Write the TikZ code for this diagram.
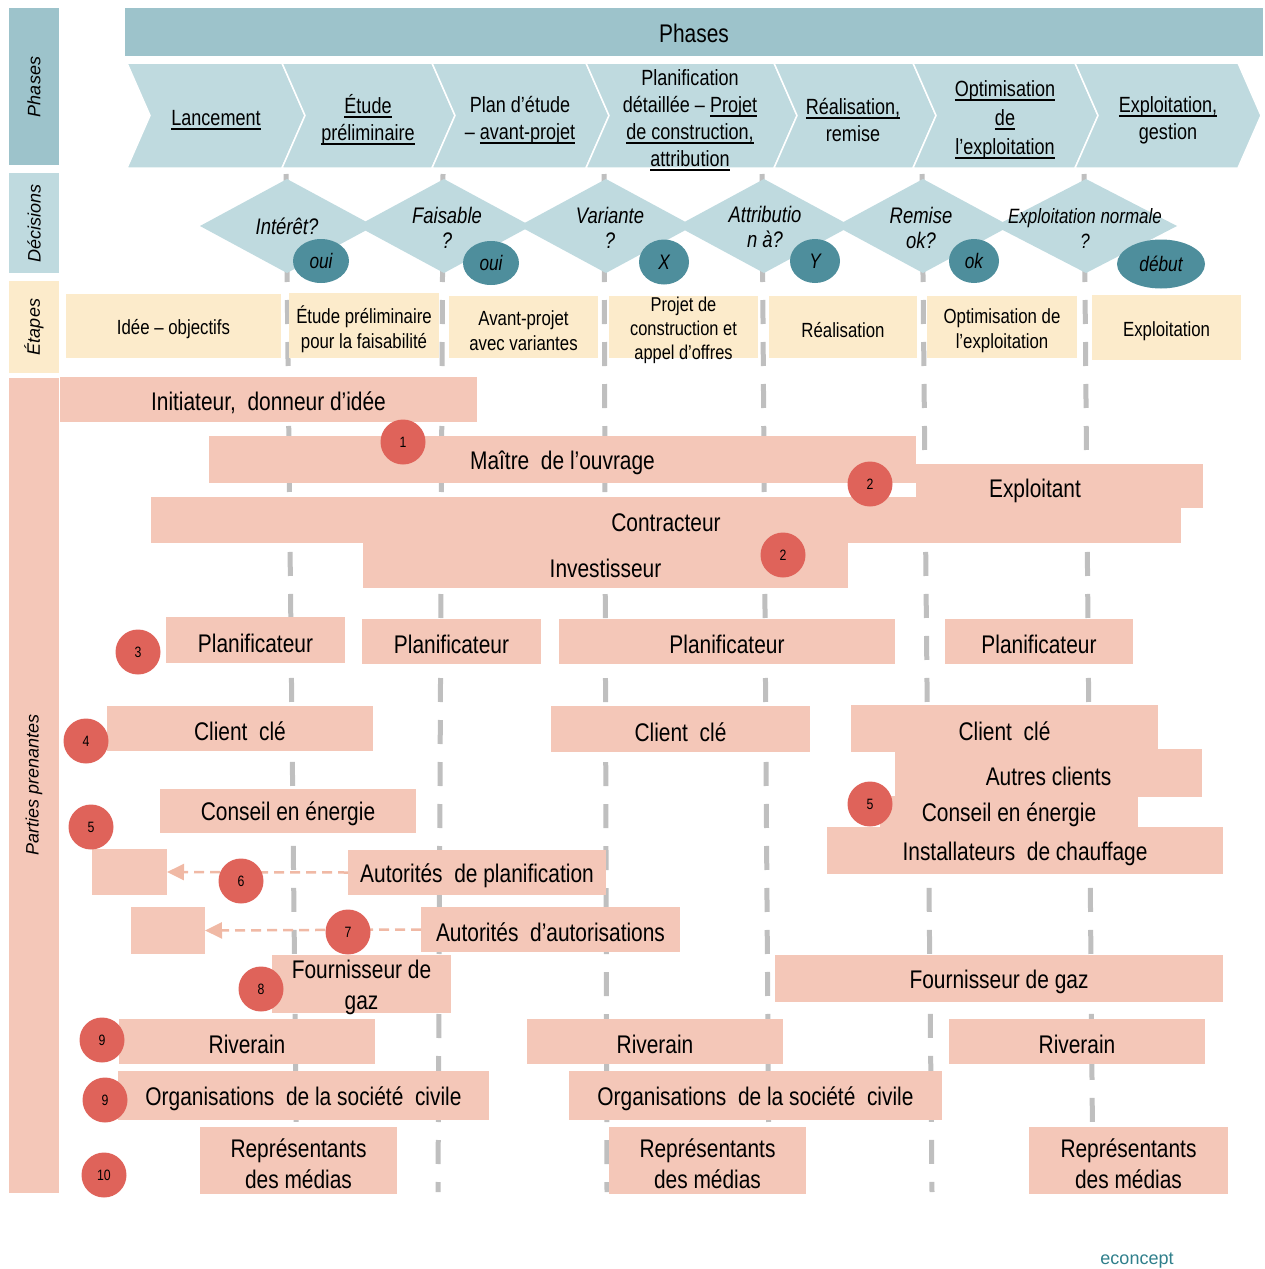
\documentclass[tikz,border=0pt]{standalone}
\usepackage{fontspec}
\setmainfont{Liberation Sans}[FakeStretch=0.82]
\newfontfamily\lblfont{Liberation Sans}
\usetikzlibrary{arrows.meta,shapes.geometric}
\definecolor{phdark}{HTML}{9DC3CB}
\definecolor{phlight}{HTML}{BFDADF}
\definecolor{ellteal}{HTML}{4E8E9C}
\definecolor{etyellow}{HTML}{FCEBCB}
\definecolor{salmonc}{HTML}{F4C7B8}
\definecolor{redc}{HTML}{DF635A}
\definecolor{glinec}{HTML}{BFBFBF}
\definecolor{arrowc}{HTML}{F0B9A5}
\definecolor{ectxt}{HTML}{2F7F8B}
\newcommand\myul[1]{\setbox0\hbox{#1}\rlap{\rule[-4.5pt]{\wd0}{1.8pt}}\box0}
% name, x1, y1, x2, y2, style, text   (fill node + text node named <name>t)
\newcommand\rbox[7]{\node[#6, minimum width={(#4-#2)*1pt}, minimum height={(#5-#3)*1pt}] (#1) at ({(#2+#4)/2},{(#3+#5)/2}) {};
  \node[#6t] (#1t) at (#1.center) {#7};}
\newcommand\chev[2]{\path[fill=phlight, draw=white, line width=1.5pt] (#1,63) -- (#2,63) -- ({#2+23},115.5) -- (#2,168) -- (#1,168) -- ({#1+23},115.5) -- cycle;}
\newcommand\dmd[2]{\path[fill=phlight] ({#1-#2},226) -- (#1,179) -- ({#1+#2},226) -- (#1,273) -- cycle;}
\tikzset{
  every node/.style={inner sep=0pt, outer sep=0pt},
  sbox/.style={fill=salmonc},
  sboxt/.style={align=center, font=\fontsize{25.5}{31}\selectfont, yshift=-3pt},
  ebox/.style={fill=etyellow},
  eboxt/.style={align=center, font=\fontsize{20.5}{25}\selectfont, yshift=-3.5pt},
  eboxs/.style={fill=etyellow},
  eboxst/.style={align=center, font=\fontsize{20}{24}\selectfont, yshift=-3.5pt},
  barbox/.style={fill=phdark},
  barboxt/.style={font=\fontsize{25.5}{28}\selectfont, yshift=-1pt},
  phtxt/.style={align=center, font=\fontsize{22}{27}\selectfont, yshift=-2pt},
  dtxt/.style={align=center, font=\itshape\fontsize{22.5}{25}\selectfont},
  ell/.style={ellipse, fill=ellteal, font=\itshape\fontsize{21}{25}\selectfont},
  numc/.style={circle, fill=redc, minimum size=45pt, font=\fontsize{15}{15}\selectfont},
  vlbl/.style={rotate=90, font=\lblfont\itshape\fontsize{18}{20}\selectfont},
  gl/.style={draw=glinec, line width=5pt, dash pattern=on 24pt off 18pt},
  darr/.style={draw=arrowc, line width=2.5pt, dash pattern=on 10pt off 6pt, -{Triangle[length=17pt,width=16pt]}}
}
\begin{document}
\begin{tikzpicture}[x=1pt,y=-1pt]
\useasboundingbox (0,0) rectangle (1265,1269);
% left label column
\fill[phdark] (9,8) rectangle (59,165);
\node[vlbl] (lphases) at (34,87) {Phases};
\fill[phlight] (9,173) rectangle (59,273);
\node[vlbl] (ldec) at (34,223) {Décisions};
\fill[etyellow] (9,281) rectangle (59,373);
\node[vlbl] (letapes) at (34,327) {Étapes};
\fill[salmonc] (9,378) rectangle (59,1193);
\node[vlbl] (lparties) at (34,785) {Parties prenantes};
% top bar
\rbox{phbar}{125}{8}{1263}{56}{barbox}{Phases}
% chevrons
\chev{127}{282}
\chev{282}{432}
\chev{432}{586}
\chev{586}{774}
\chev{774}{913}
\chev{913}{1075}
\chev{1075}{1238}
\node[phtxt] (p1) at (216,118) {\myul{Lancement}};
\node[phtxt] (p2) at (368,118) {\myul{Étude}\\\myul{préliminaire}};
\node[phtxt] (p3) at (520,118) {Plan d’étude\\– \myul{avant-projet}};
\node[phtxt] (p4) at (690,118) {Planification\\détaillée – \myul{Projet}\\\myul{de construction,}\\\myul{attribution}};
\node[phtxt] (p5) at (853,118) {\myul{Réalisation,}\\remise};
\node[phtxt, font=\fontsize{22}{29}\selectfont] (p6) at (1005,118) {\myul{Optimisation}\\\myul{de}\\\myul{l’exploitation}};
\node[phtxt] (p7) at (1168,118) {\myul{Exploitation,}\\gestion};
% vertical dashed lines
\coordinate (l1t) at (286,174); \coordinate (l1b) at (297,1192);
\coordinate (l2t) at (443,174); \coordinate (l2b) at (438,1192);
\coordinate (l3t) at (604,174); \coordinate (l3b) at (607,1192);
\coordinate (l4t) at (762,174); \coordinate (l4b) at (769,1192);
\coordinate (l5t) at (922,174); \coordinate (l5b) at (932,1192);
\coordinate (l6t) at (1084,174); \coordinate (l6b) at (1093,1192);
\foreach \i in {1,...,6} { \draw[gl] (l\i t) -- (l\i b); }
% decisions
\dmd{287}{87}
\dmd{444}{87}
\dmd{606}{87}
\dmd{764}{87}
\dmd{923}{87}
\dmd{1086}{91}
\node[dtxt] (d1) at (287,226) {Intérêt?};
\node[dtxt] (d2) at (447,228) {Faisable\\?};
\node[dtxt] (d3) at (610,228) {Variante\\?};
\node[dtxt] (d4) at (765,227) {Attributio\\n à?};
\node[dtxt] (d5) at (921,228) {Remise\\ok?};
\node[dtxt, font=\itshape\fontsize{20.7}{25}\selectfont] (d6) at (1085,228) {Exploitation normale\\?};
\node[ell, minimum width=56pt, minimum height=44pt] (e1) at (321,261) {oui};
\node[ell, minimum width=56pt, minimum height=44pt] (e2) at (491,263) {oui};
\node[ell, minimum width=50pt, minimum height=45pt] (e3) at (664,262) {X};
\node[ell, minimum width=50pt, minimum height=44pt] (e4) at (815,261) {Y};
\node[ell, minimum width=50pt, minimum height=44pt] (e5) at (974,261) {ok};
\node[ell, minimum width=88pt, minimum height=49pt] (e6) at (1161,264) {début};
% etapes
\rbox{et1}{66}{294}{281}{358}{ebox}{Idée – objectifs}
\rbox{et2}{289}{293}{439}{358}{ebox}{Étude préliminaire\\pour la faisabilité}
\rbox{et3}{449}{296}{598}{358}{ebox}{Avant-projet\\avec variantes}
\rbox{et4}{609}{296}{758}{358}{eboxs}{Projet de\\construction et\\appel d’offres}
\rbox{et5}{769}{296}{917}{358}{ebox}{Réalisation}
\rbox{et6}{927}{296}{1077}{358}{ebox}{Optimisation de\\l’exploitation}
\rbox{et7}{1092}{295}{1241}{360}{ebox}{Exploitation}
% stakeholders
\rbox{init}{60}{377}{477}{422}{sbox}{Initiateur,~ donneur d’idée}
\rbox{maitre}{209}{436}{916}{483}{sbox}{Maître~ de l’ouvrage}
\node[sbox, minimum width=287pt, minimum height=44pt] (exploit) at (1059.5,486) {};
\rbox{contr}{151}{497}{1181}{543}{sbox}{Contracteur}
\node[sboxt] (exploitt) at (1035,488) {Exploitant};
\rbox{invest}{363}{543}{848}{588}{sbox}{Investisseur}
\rbox{plan1}{166}{617}{345}{663}{sbox}{Planificateur}
\rbox{plan2}{362}{619}{541}{664}{sbox}{Planificateur}
\rbox{plan3}{559}{619}{895}{664}{sbox}{Planificateur}
\rbox{plan4}{945}{619}{1133}{664}{sbox}{Planificateur}
\rbox{client1}{107}{706}{373}{751}{sbox}{Client~ clé}
\rbox{client2}{551}{706}{810}{752}{sbox}{Client~ clé}
\rbox{client3}{851}{705}{1158}{752}{sbox}{Client~ clé}
\rbox{autres}{895}{749}{1202}{797}{sbox}{Autres clients}
\rbox{conseil1}{160}{789}{416}{833}{sbox}{Conseil en énergie}
\rbox{conseil2}{880}{796}{1138}{828}{sbox}{Conseil en énergie}
\rbox{install}{827}{827}{1223}{874}{sbox}{Installateurs~ de chauffage}
\rbox{b6}{92}{849}{167}{895}{sbox}{}
\rbox{autplan}{348}{850}{606}{895}{sbox}{Autorités~ de planification}
\rbox{b7}{131}{907}{205}{954}{sbox}{}
\rbox{autaut}{421}{907}{680}{952}{sbox}{Autorités~ d’autorisations}
\rbox{four1}{272}{955}{451}{1013}{sbox}{Fournisseur de\\gaz}
\rbox{four2}{775}{955}{1223}{1002}{sbox}{Fournisseur de gaz}
\rbox{riv1}{119}{1019}{375}{1064}{sbox}{Riverain}
\rbox{riv2}{527}{1019}{783}{1064}{sbox}{Riverain}
\rbox{riv3}{949}{1019}{1205}{1064}{sbox}{Riverain}
\rbox{org1}{118}{1071}{489}{1120}{sbox}{Organisations~ de la société~ civile}
\rbox{org2}{569}{1071}{942}{1120}{sbox}{Organisations~ de la société~ civile}
\rbox{rep1}{200}{1127}{397}{1194}{sbox}{Représentants\\des médias}
\rbox{rep2}{609}{1127}{806}{1194}{sbox}{Représentants\\des médias}
\rbox{rep3}{1029}{1127}{1228}{1194}{sbox}{Représentants\\des médias}
% dashed arrows
\draw[darr] (autplan.west) -- (b6.east);
\draw[darr] (autaut.west) -- (b7.east);
% number circles
\node[numc] (n1) at (403,442) {1};
\node[numc] (n2a) at (870,484) {2};
\node[numc] (n2b) at (783,555) {2};
\node[numc] (n3) at (138,652) {3};
\node[numc] (n4) at (86,741) {4};
\node[numc] (n5a) at (91,827) {5};
\node[numc] (n5b) at (870,804) {5};
\node[numc] (n6) at (241,881) {6};
\node[numc] (n7) at (348,932) {7};
\node[numc] (n8) at (261,989) {8};
\node[numc] (n9a) at (102,1040) {9};
\node[numc] (n9b) at (105,1100) {9};
\node[numc] (n10) at (104,1175) {10};
% footer
\node[text=ectxt, font=\lblfont\fontsize{18}{20}\selectfont] (econ) at (1137,1261) {econcept};
\end{tikzpicture}
\end{document}
